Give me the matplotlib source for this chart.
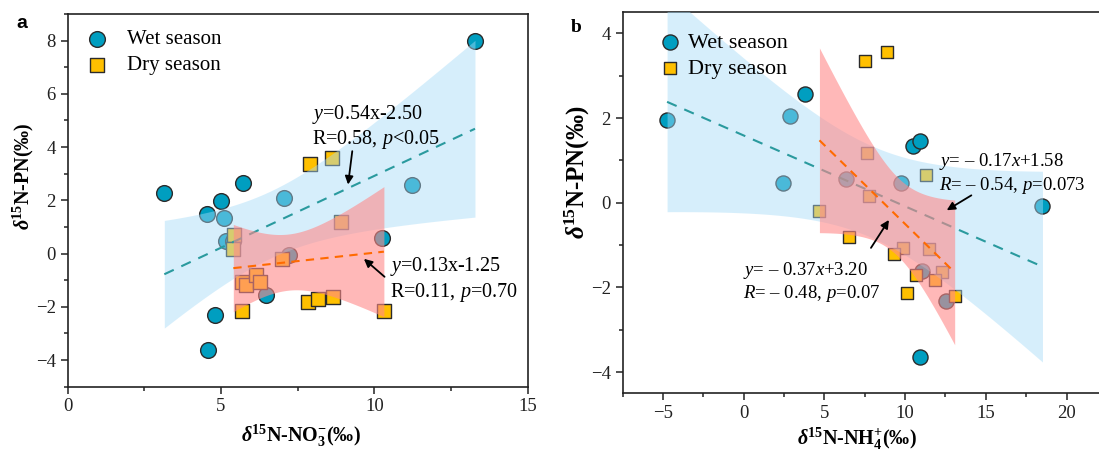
import numpy as np
import matplotlib.pyplot as plt
from matplotlib.ticker import MultipleLocator

plt.rcParams["font.family"] = ["Liberation Serif", "DejaVu Serif"]
plt.rcParams["mathtext.fontset"] = "custom"
plt.rcParams["mathtext.rm"] = "Liberation Serif"
plt.rcParams["mathtext.it"] = "Liberation Serif:italic"
plt.rcParams["mathtext.bf"] = "Liberation Serif:bold"
plt.rcParams["mathtext.bfit"] = "Liberation Serif:bold:italic"

# panel a: d15N-NO3 vs d15N-PN
no3_wet_x = [3.15, 5.0, 5.73, 4.53, 5.11, 5.16, 5.40, 7.05, 7.2, 6.46, 4.80, 4.56, 13.28, 11.23, 10.26]
no3_wet_y = [2.26, 1.97, 2.64, 1.47, 1.32, 0.47, 0.47, 2.07, -0.07, -1.57, -2.32, -3.64, 8.0, 2.57, 0.59]
no3_dry_x = [7.9, 8.61, 8.9, 5.42, 5.40, 6.98, 5.67, 5.81, 6.13, 6.27, 5.67, 7.85, 8.17, 8.66, 10.31]
no3_dry_y = [3.36, 3.58, 1.17, 0.69, 0.19, -0.19, -1.07, -1.19, -0.82, -1.07, -2.14, -1.82, -1.72, -1.63, -2.17]

# panel b: d15N-NH4 vs d15N-PN
nh4_wet_x = [-4.75, 2.87, 3.78, 2.46, 6.36, 9.75, 10.47, 10.95, 18.51, 11.05, 12.52, 10.9]
nh4_wet_y = [1.96, 2.06, 2.57, 0.46, 0.56, 0.46, 1.33, 1.46, -0.08, -1.6, -2.33, -3.65]
nh4_dry_x = [7.5, 8.9, 7.66, 7.77, 4.69, 11.3, 6.53, 9.87, 11.49, 9.32, 12.31, 10.7, 11.88, 13.07, 10.14]
nh4_dry_y = [3.34, 3.57, 1.17, 0.17, -0.19, 0.66, -0.81, -1.07, -1.08, -1.21, -1.64, -1.71, -1.83, -2.2, -2.13]

# two-sided 95% t values by degrees of freedom
t95 = {10: 2.228, 13: 2.160}

wet_face = "#009ec0"
dry_face = "#ffc000"
edge = "#2b2b2b"
wet_line = "#2a9a9e"
dry_line = "#ff6a00"
wet_band = "#a6dbf8"
pink_band = "#ff8a8a"


def fit_band(ax, x, y, lcolor, bcolor, balpha, dashes, lz, bz):
    x = np.asarray(x)
    y = np.asarray(y)
    n = len(x)
    b, a = np.polyfit(x, y, 1)
    xs = np.linspace(x.min(), x.max(), 100)
    yhat = a + b * xs
    res = y - (a + b * x)
    s = np.sqrt(np.sum(res**2) / (n - 2))
    sxx = np.sum((x - x.mean()) ** 2)
    hw = t95[n - 2] * s * np.sqrt(1 / n + (xs - x.mean()) ** 2 / sxx)
    ax.plot(xs, yhat, color=lcolor, lw=1.5, dashes=dashes, zorder=lz)
    ax.fill_between(xs, yhat - hw, yhat + hw, color=bcolor, alpha=balpha, lw=0, zorder=bz)


def style(ax):
    for sp in ax.spines.values():
        sp.set_linewidth(1.2)
        sp.set_color("#222222")
    ax.tick_params(which="both", direction="out", top=False, right=False,
                   labelsize=13.5, width=1.1, colors="#222222")
    ax.tick_params(which="major", length=5)
    ax.tick_params(which="minor", length=3)


fig = plt.figure(figsize=(10.99, 4.5), dpi=100)

# ---- panel a
ax = fig.add_axes([0.0616, 0.1407, 0.4186, 0.8282])
ax.scatter(no3_wet_x, no3_wet_y, s=128, marker="o", fc=wet_face, ec=edge, lw=1, zorder=2,
           label="Wet season")
ax.scatter(no3_dry_x, no3_dry_y, s=100, marker="s", fc=dry_face, ec=edge, lw=1, zorder=2,
           label="Dry season")
fit_band(ax, no3_wet_x, no3_wet_y, wet_line, wet_band, 0.45, (5, 4), 4.5, 4)
fit_band(ax, no3_dry_x, no3_dry_y, dry_line, pink_band, 0.6, (4, 3), 6, 5)
ax.set_xlim(0, 15)
ax.set_ylim(-5, 9)
ax.xaxis.set_major_locator(MultipleLocator(5))
ax.xaxis.set_minor_locator(MultipleLocator(2.5))
ax.yaxis.set_major_locator(MultipleLocator(2))
ax.yaxis.set_minor_locator(MultipleLocator(1))
style(ax)
ax.set_xlabel(r"$\mathbfit{\delta}^{\mathbf{15}}$N-NO$_{\mathbf{3}}^{\mathbf{-}}$(‰)",
              fontsize=14.5, fontweight="bold")
ax.set_ylabel(r"$\mathbfit{\delta}^{\mathbf{15}}$N-PN(‰)", fontsize=14.5, fontweight="bold")
ax.xaxis.set_label_coords(0.507, -0.098)
ax.yaxis.set_label_coords(-0.069, 0.565)
ax.legend(loc="upper left", bbox_to_anchor=(0.040, 0.958), frameon=False, fontsize=15,
          handlelength=1.0, handletextpad=0.94, labelspacing=0.3, borderaxespad=0,
          borderpad=0)

ax.text(7.96, 5.21, r"$\mathit{y}$=0.54x-2.50", fontsize=14.5, va="center", zorder=8)
ax.text(7.96, 4.29, r"R=0.58, $\mathit{p}$<0.05", fontsize=14.5, va="center", zorder=8)
ax.annotate("", xy=(9.13, 2.49), xytext=(9.29, 3.95), zorder=8,
            arrowprops=dict(arrowstyle="-|>", color="black", lw=1.3, mutation_scale=12))
ax.text(10.51, -0.50, r"$\mathit{y}$=0.13x-1.25", fontsize=14.5, va="center", zorder=8)
ax.text(10.51, -1.48, r"R=0.11, $\mathit{p}$=0.70", fontsize=14.5, va="center", zorder=8)
ax.annotate("", xy=(9.59, -0.13), xytext=(10.4, -0.94), zorder=8,
            arrowprops=dict(arrowstyle="-|>", color="black", lw=1.3, mutation_scale=12))

fig.text(0.02, 0.9467, "a", fontsize=14, fontweight="bold", family="Liberation Sans",
         ha="center", va="center")

# ---- panel b (right side runs past the figure edge, as in the source)
ax = fig.add_axes([0.5666, 0.126, 0.4626, 0.8467])
ax.scatter(nh4_wet_x, nh4_wet_y, s=118, marker="o", fc=wet_face, ec=edge, lw=1, zorder=2,
           label="Wet season")
ax.scatter(nh4_dry_x, nh4_dry_y, s=85, marker="s", fc=dry_face, ec=edge, lw=1, zorder=2,
           label="Dry season")
fit_band(ax, nh4_wet_x, nh4_wet_y, wet_line, wet_band, 0.45, (5, 4), 4.5, 4)
fit_band(ax, nh4_dry_x, nh4_dry_y, dry_line, pink_band, 0.6, (4, 3), 6, 5)
ax.set_xlim(-7.5, 24)
ax.set_ylim(-4.5, 4.5)
ax.xaxis.set_major_locator(MultipleLocator(5))
ax.xaxis.set_minor_locator(MultipleLocator(2.5))
ax.yaxis.set_major_locator(MultipleLocator(2))
ax.yaxis.set_minor_locator(MultipleLocator(1))
style(ax)
ax.set_xlabel(r"$\mathbfit{\delta}^{\mathbf{15}}$N-NH$_{\mathbf{4}}^{\mathbf{+}}$(‰)",
              fontsize=14.5, fontweight="bold")
ax.set_ylabel(r"$\mathbfit{\delta}^{\mathbf{15}}$N-PN(‰)", fontsize=18, fontweight="bold")
ax.xaxis.set_label_coords(0.4616, -0.084)
ax.yaxis.set_label_coords(-0.060, 0.581)
ax.legend(loc="upper left", bbox_to_anchor=(0.071, 0.9475), frameon=False, fontsize=16,
          handlelength=1.0, handletextpad=0.32, labelspacing=0.25, borderaxespad=0,
          borderpad=0)

ax.text(12.08, 0.97, "$\\mathit{y}$= \u2013 0.17$\\mathit{x}$+1.58", fontsize=13.5,
        va="center", zorder=8)
ax.text(12.08, 0.42, "$\\mathit{R}$= \u2013 0.54, $\\mathit{p}$=0.073", fontsize=13.5,
        va="center", zorder=8)
ax.annotate("", xy=(12.43, -0.21), xytext=(14.25, 0.21), zorder=8,
            arrowprops=dict(arrowstyle="-|>", color="black", lw=1.3, mutation_scale=12))
ax.text(-0.02, -1.6, "$\\mathit{y}$= \u2013 0.37$\\mathit{x}$+3.20", fontsize=13.5,
        va="center", zorder=8)
ax.text(-0.02, -2.15, "$\\mathit{R}$= \u2013 0.48, $\\mathit{p}$=0.07", fontsize=13.5,
        va="center", zorder=8)
ax.annotate("", xy=(9.09, -0.35), xytext=(7.79, -1.12), zorder=8,
            arrowprops=dict(arrowstyle="-|>", color="black", lw=1.3, mutation_scale=12))

fig.text(0.524, 0.94, "b", fontsize=14, fontweight="bold", ha="center", va="center")

fig.savefig("out.png", dpi=100)
